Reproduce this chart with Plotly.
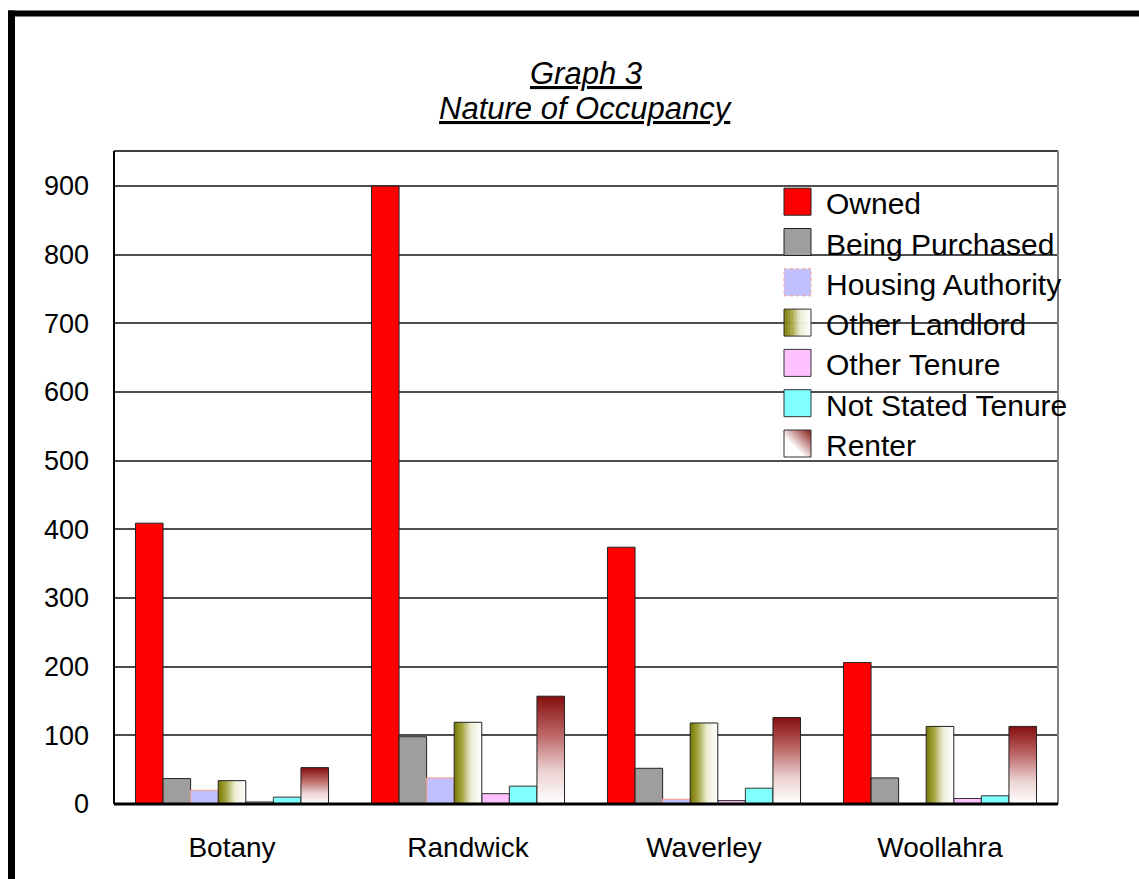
import plotly.graph_objects as go

# ---- data -------------------------------------------------------------
categories = ["Botany", "Randwick", "Waverley", "Woollahra"]
series_names = ["Owned", "Being Purchased", "Housing Authority", "Other Landlord",
                "Other Tenure", "Not Stated Tenure", "Renter"]
owned = [409, 900, 374, 206]
being_purchased = [37, 98, 52, 38]
housing_authority = [20, 38, 7, 0]
other_landlord = [34, 119, 118, 113]
other_tenure = [3, 15, 5, 8]
not_stated_tenure = [10, 26, 23, 12]
renter = [53, 157, 126, 113]
y_ticks = [0, 100, 200, 300, 400, 500, 600, 700, 800, 900]

series_values = [owned, being_purchased, housing_authority, other_landlord,
                 other_tenure, not_stated_tenure, renter]

# ---- layout geometry (pixels) ----------------------------------------
W, H = 1139, 879
L, R, T, B = 114, 81, 151, 75
PW, PH = W - L - R, H - T - B
FONT = "Arial, Liberation Sans, sans-serif"


def px_x(px):
    return (px - L) / PW


def px_y(py):
    return (H - B - py) / PH


def mix(c1, c2, t):
    a = [int(c1[i:i + 2], 16) for i in (1, 3, 5)]
    b = [int(c2[i:i + 2], 16) for i in (1, 3, 5)]
    return "#%02x%02x%02x" % tuple(round(a[k] + (b[k] - a[k]) * t) for k in range(3))


OLIVE_SCALE = [[0, "#787800"], [0.3, "#a8a848"], [0.6, "#ececd4"], [1, "#ffffff"]]
RENTER_SCALE = [[0, "#ffffff"], [0.3, "#ecd2d2"], [0.65, "#bb6464"], [1, "#860e0e"]]

solid_styles = {
    "Owned": dict(color="#ff0000", line="#222222"),
    "Being Purchased": dict(color="#9e9e9e", line="#222222"),
    "Housing Authority": dict(color="#c0c0ff", line="#ff9f80"),
    "Other Tenure": dict(color="#ffc0ff", line="#333333"),
    "Not Stated Tenure": dict(color="#80ffff", line="#333333"),
}
gradient_styles = {
    "Other Landlord": dict(type="horizontal", colorscale=OLIVE_SCALE),
    "Renter": dict(type="vertical", colorscale=RENTER_SCALE),
}

n_series = len(series_names)
group_frac = 0.818
bar_w = group_frac / n_series
x_idx = list(range(len(categories)))

fig = go.Figure()
for i, (name, vals) in enumerate(zip(series_names, series_values)):
    off = -group_frac / 2 + i * bar_w
    if name in solid_styles:
        st = solid_styles[name]
        fig.add_trace(go.Bar(
            x=x_idx, y=vals, name=name, width=bar_w, offset=off,
            marker=dict(color=st["color"], line=dict(color=st["line"], width=1)),
            showlegend=False,
        ))
    else:
        g = gradient_styles[name]
        for xi, v in zip(x_idx, vals):
            x0, x1 = xi + off, xi + off + bar_w
            fig.add_trace(go.Scatter(
                x=[x0, x0, x1, x1, x0], y=[0, v, v, 0, 0],
                mode="lines", fill="toself", name=name,
                fillgradient=dict(type=g["type"], colorscale=g["colorscale"]),
                line=dict(color="#222222", width=1),
                showlegend=False, hoverinfo="skip",
            ))

shapes = []
annotations = []

# plot-area border
shapes += [
    dict(type="line", xref="paper", yref="paper", x0=0, x1=0, y0=0, y1=1,
         line=dict(color="#000000", width=2)),
    dict(type="line", xref="paper", yref="paper", x0=0, x1=1, y0=1, y1=1,
         line=dict(color="#000000", width=1.5)),
    dict(type="line", xref="paper", yref="paper", x0=1, x1=1, y0=0, y1=1,
         line=dict(color="#808080", width=2)),
    dict(type="line", xref="paper", yref="paper", x0=0, x1=1, y0=0, y1=0,
         line=dict(color="#000000", width=3)),
]

# outer frame (top and left edges)
shapes += [
    dict(type="line", xref="paper", yref="paper", x0=px_x(8), x1=px_x(W + 5),
         y0=px_y(13.5), y1=px_y(13.5), line=dict(color="#000000", width=6)),
    dict(type="line", xref="paper", yref="paper", x0=px_x(11.5), x1=px_x(11.5),
         y0=px_y(10.5), y1=px_y(H + 5), line=dict(color="#000000", width=7)),
]

# legend
sw_x0, sw_x1 = 784, 811
sw = sw_x1 - sw_x0
row0, row_step = 201.7, 40.3
for k, name in enumerate(series_names):
    yc = row0 + k * row_step
    top, bot = yc - sw / 2, yc + sw / 2
    if name in solid_styles:
        st = solid_styles[name]
        shapes.append(dict(type="rect", xref="paper", yref="paper",
                           x0=px_x(sw_x0), x1=px_x(sw_x1), y0=px_y(bot), y1=px_y(top),
                           fillcolor=st["color"],
                           line=dict(color=st["line"], width=1,
                                     dash="dot" if name == "Housing Authority" else "solid")))
    elif name == "Other Landlord":
        n = 18
        for j in range(n):
            t = (j + 0.5) / n
            # piecewise sample of the olive scale
            if t < 0.3:
                col = mix("#787800", "#a8a848", t / 0.3)
            elif t < 0.6:
                col = mix("#a8a848", "#ececd4", (t - 0.3) / 0.3)
            else:
                col = mix("#ececd4", "#ffffff", (t - 0.6) / 0.4)
            shapes.append(dict(type="rect", xref="paper", yref="paper",
                               x0=px_x(sw_x0 + sw * j / n), x1=px_x(sw_x0 + sw * (j + 1) / n + 0.3),
                               y0=px_y(bot), y1=px_y(top), fillcolor=col, line=dict(width=0)))
        shapes.append(dict(type="rect", xref="paper", yref="paper",
                           x0=px_x(sw_x0), x1=px_x(sw_x1), y0=px_y(bot), y1=px_y(top),
                           line=dict(color="#333333", width=1)))
    else:
        # diagonal fade: white bottom-left to dark red top-right
        n = 20
        for j in range(n):
            s = 2 * j / n
            t = max(0.0, (s - 0.7) / 1.3)
            col = mix("#ffffff", "#860e0e", t)
            if s <= 1:
                pts = [(s, 0), (1, 0), (1, 1), (0, 1), (0, s)]
            else:
                pts = [(1, s - 1), (1, 1), (s - 1, 1)]
            path = "M " + " L ".join(
                "%f,%f" % (px_x(sw_x0 + sw * u), px_y(bot - sw * v)) for u, v in pts) + " Z"
            shapes.append(dict(type="path", xref="paper", yref="paper", path=path,
                               fillcolor=col, line=dict(width=0)))
        shapes.append(dict(type="rect", xref="paper", yref="paper",
                           x0=px_x(sw_x0), x1=px_x(sw_x1), y0=px_y(bot), y1=px_y(top),
                           line=dict(color="#333333", width=1)))
    annotations.append(dict(xref="paper", yref="paper", x=px_x(824), y=px_y(yc + 2),
                            xanchor="left", yanchor="middle", showarrow=False,
                            text=name, font=dict(family=FONT, size=30, color="#000000")))

# title
annotations += [
    dict(xref="paper", yref="paper", x=0.5, y=px_y(74), xanchor="center", yanchor="middle",
         showarrow=False, text="<i><u>Graph 3</u></i>",
         font=dict(family=FONT, size=31, color="#000000")),
    dict(xref="paper", yref="paper", x=0.5, y=px_y(109), xanchor="center", yanchor="middle",
         showarrow=False, text="<i><u>Nature of Occupancy</u></i>",
         font=dict(family=FONT, size=31, color="#000000")),
]

fig.update_layout(
    width=W, height=H,
    margin=dict(l=L, r=R, t=T, b=B, pad=0),
    paper_bgcolor="#ffffff", plot_bgcolor="#ffffff",
    barmode="overlay",
    showlegend=False,
    font=dict(family=FONT, size=27, color="#000000"),
    shapes=shapes,
    annotations=annotations,
    xaxis=dict(range=[-0.5, len(categories) - 0.5], tickvals=x_idx, ticktext=categories,
               showgrid=False, zeroline=False, showline=False, ticks="",
               ticklabelstandoff=24, tickfont=dict(family=FONT, size=28, color="#000000")),
    yaxis=dict(range=[0, 951], tickvals=y_ticks, showgrid=True, gridcolor="#4d4d4d",
               gridwidth=1.5, zeroline=False, showline=False, ticks="",
               ticklabelstandoff=24, tickfont=dict(family=FONT, size=27, color="#000000")),
)

fig.write_html("out.html")
